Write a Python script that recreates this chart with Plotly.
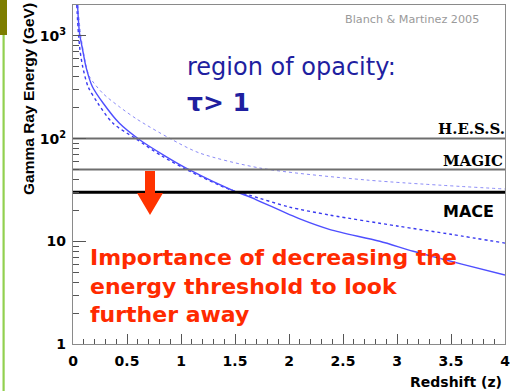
import math
import plotly.graph_objects as go

# ---- data -------------------------------------------------------------
# Gamma-ray horizon curves: energy (GeV) vs redshift z
z_solid = [0.042, 0.06, 0.09, 0.12, 0.18, 0.28, 0.43, 0.62, 0.85, 1.08,
           1.52, 1.64, 2.10, 2.38, 2.84, 3.15, 3.6, 4.0]
e_solid = [2000, 1070, 725, 500, 320, 221, 141, 97, 68, 49.5,
           30, 27, 16.5, 13, 10, 8, 6, 4.7]

z_dash = [0.035, 0.05, 0.065, 0.09, 0.14, 0.23, 0.37, 0.58, 0.82, 1.05,
          1.45, 1.64, 2.0, 2.38, 3.0, 3.5, 4.0]
e_dash = [2000, 1070, 725, 500, 320, 221, 141, 100, 68, 50,
          32, 28, 21.6, 18, 14.1, 11.7, 9.6]

z_dot = [0.045, 0.07, 0.12, 0.153, 0.276, 0.43, 0.59, 0.9, 1.17, 1.73, 2.72, 4.0]
e_dot = [2000, 1050, 520, 401, 276, 204, 155, 100, 72.5, 51.7, 39.5, 32.3]

# Telescope energy thresholds (GeV)
telescopes = ["H.E.S.S.", "MAGIC", "MACE"]
thresholds = [100, 50, 30]

x_ticks = [0, 0.5, 1, 1.5, 2, 2.5, 3, 3.5, 4]
x_ticklabels = ["0", "0.5", "1", "1.5", "2", "2.5", "3", "3.5", "4"]
y_ticks = [1, 10, 100, 1000]
y_ticklabels = ["1", "10", "10<sup>2</sup>", "10<sup>3</sup>"]

# ---- geometry helpers (pixel -> paper) ----------------------------------
W, H = 516, 391
ML, MR, MT, MB = 73, 11, 5, 47
PW, PH = W - ML - MR, H - MT - MB


def px(x):
    return (x - ML) / PW


def py(y):
    return (H - MB - y) / PH


fig = go.Figure()

fig.add_trace(go.Scatter(x=z_dot, y=e_dot, mode="lines",
                         line=dict(color="rgba(110,110,245,0.8)", width=1, dash="dot",
                                   shape="spline", smoothing=0.8),
                         showlegend=False, hoverinfo="skip"))
fig.add_trace(go.Scatter(x=z_dash, y=e_dash, mode="lines",
                         line=dict(color="#3a3af0", width=1.4, dash="3px,3px",
                                   shape="spline", smoothing=0.8),
                         showlegend=False, hoverinfo="skip"))
fig.add_trace(go.Scatter(x=z_solid, y=e_solid, mode="lines",
                         line=dict(color="#4f4fff", width=1.4,
                                   shape="spline", smoothing=0.8),
                         showlegend=False, hoverinfo="skip"))

line_styles = {"H.E.S.S.": ("#6e6e6e", 2), "MAGIC": ("#6e6e6e", 2), "MACE": ("#000000", 3)}
for name, thr in zip(telescopes, thresholds):
    col, wid = line_styles[name]
    fig.add_trace(go.Scatter(x=[x_ticks[0], x_ticks[-1]], y=[thr, thr], mode="lines",
                             line=dict(color=col, width=wid),
                             showlegend=False, hoverinfo="skip"))

annotations = []

# threshold labels
label_fmt = {
    "H.E.S.S.": dict(font=dict(family="DejaVu Serif", size=15, color="black", weight="bold"), yshift=10, xshift=2),
    "MAGIC": dict(font=dict(family="DejaVu Serif", size=15, color="black", weight="bold"), yshift=9, xshift=0),
    "MACE": dict(font=dict(family="DejaVu Sans", size=16, color="black", weight="bold"), yshift=-19, xshift=-9),
}
for name, thr in zip(telescopes, thresholds):
    f = label_fmt[name]
    annotations.append(dict(text=name, x=x_ticks[-1], y=math.log10(thr), xref="x", yref="y",
                            xanchor="right", yanchor="middle", showarrow=False,
                            font=f["font"], xshift=f["xshift"], yshift=f["yshift"]))

annotations += [
    dict(text="Blanch & Martinez 2005", x=px(343), y=py(19), xref="paper", yref="paper",
         xanchor="left", yanchor="middle", showarrow=False,
         font=dict(family="DejaVu Sans", size=11.2, color="#9a9a9a")),
    dict(text="region of opacity:", x=px(185), y=py(67), xref="paper", yref="paper",
         xanchor="left", yanchor="middle", showarrow=False,
         font=dict(family="DejaVu Sans", size=24, color="#1f1fa0")),
    dict(text="τ> 1", x=px(185), y=py(102), xref="paper", yref="paper",
         xanchor="left", yanchor="middle", showarrow=False,
         font=dict(family="DejaVu Sans", size=25, color="#1f1fa0", weight="bold")),
    dict(text="Importance of decreasing the<br>energy threshold to look<br>further away",
         x=px(88), y=py(286), xref="paper", yref="paper", align="left",
         xanchor="left", yanchor="middle", showarrow=False,
         font=dict(family="DejaVu Sans", size=22, color="#ff2a00", weight="bold")),
    dict(text="Redshift (z)", x=px(504), y=py(382), xref="paper", yref="paper",
         xanchor="right", yanchor="middle", showarrow=False,
         font=dict(family="DejaVu Sans", size=14, color="black", weight="bold")),
    dict(text="Gamma Ray Energy (GeV)", x=px(28), y=py(99), xref="paper", yref="paper",
         xanchor="center", yanchor="middle", showarrow=False, textangle=-90,
         font=dict(family="Liberation Sans", size=15.5, color="black", weight="bold")),
]

# red arrow below the MAGIC line
arrow = [(145, 171), (155, 171), (155, 193), (163, 193), (150, 215), (137, 193), (145, 193)]
arrow_path = "M " + " L ".join(f"{px(a)},{py(b)}" for a, b in arrow) + " Z"

shapes = [
    dict(type="path", path=arrow_path, xref="paper", yref="paper",
         fillcolor="#ff3300", line=dict(width=0), layer="above"),
    # slide decoration on the left edge
    dict(type="rect", xref="paper", yref="paper", x0=px(0), x1=px(7), y0=py(35), y1=py(0),
         fillcolor="#7d7d00", line=dict(width=0), layer="above"),
    dict(type="rect", xref="paper", yref="paper", x0=px(2.5), x1=px(4.7), y0=py(391), y1=py(35),
         fillcolor="#92d050", line=dict(width=0), layer="above"),
]

minor_x = [round(0.1 * i, 1) for i in range(41) if i % 5 != 0]
minor_y = [m * 10 ** d for d in range(4) for m in range(2, 10) if m * 10 ** d < 2000]

fig.update_layout(
    width=W, height=H,
    margin=dict(l=ML, r=MR, t=MT, b=MB),
    paper_bgcolor="white", plot_bgcolor="white",
    annotations=annotations, shapes=shapes,
    xaxis=dict(range=[0, 4], tickmode="array", tickvals=x_ticks, ticktext=x_ticklabels,
               ticks="inside", ticklen=10, tickwidth=1, tickcolor="#555",
               minor=dict(tickmode="array", tickvals=minor_x, ticks="inside", ticklen=5,
                          tickwidth=1, tickcolor="#555", showgrid=False),
               showline=True, linecolor="#8a8a8a", linewidth=1.2, mirror=True,
               showgrid=False, zeroline=False, ticklabelstandoff=4,
               tickfont=dict(family="DejaVu Sans", size=14, color="black", weight="bold")),
    yaxis=dict(type="log", range=[0, 3.301], tickmode="array", tickvals=y_ticks,
               ticktext=y_ticklabels,
               ticks="inside", ticklen=13, tickwidth=1, tickcolor="#555",
               minor=dict(tickmode="array", tickvals=minor_y, ticks="inside", ticklen=6,
                          tickwidth=1, tickcolor="#555", showgrid=False),
               showline=True, linecolor="#8a8a8a", linewidth=1.2, mirror=True,
               showgrid=False, zeroline=False, ticklabelstandoff=3,
               tickfont=dict(family="DejaVu Sans", size=14, color="black", weight="bold")),
)

fig.write_html("out.html")
